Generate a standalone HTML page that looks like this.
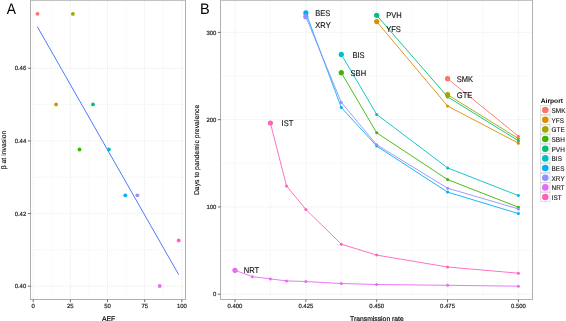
<!DOCTYPE html><html><head><meta charset="utf-8"><style>html,body{margin:0;padding:0;background:#fff;}svg{display:block;will-change:transform;transform:translateZ(0);text-rendering:geometricPrecision;}text{font-family:"Liberation Sans",sans-serif;}</style></head><body>
<svg width="566" height="321" viewBox="0 0 566 321">
<rect x="0" y="0" width="566" height="321" fill="#fff"/>
<g stroke="#f0f0f0" stroke-width="0.8" stroke-dasharray="1 1" fill="none">
<line x1="51.78" y1="1" x2="51.78" y2="299"/>
<line x1="88.94" y1="1" x2="88.94" y2="299"/>
<line x1="126.11" y1="1" x2="126.11" y2="299"/>
<line x1="163.27" y1="1" x2="163.27" y2="299"/>
<line x1="31" y1="249.88" x2="185" y2="249.88"/>
<line x1="31" y1="177.23" x2="185" y2="177.23"/>
<line x1="31" y1="104.58" x2="185" y2="104.58"/>
</g>
<g stroke="#e6e6e6" stroke-width="0.8" stroke-dasharray="1 1" fill="none">
<line x1="33.20" y1="1" x2="33.20" y2="299"/>
<line x1="70.36" y1="1" x2="70.36" y2="299"/>
<line x1="107.52" y1="1" x2="107.52" y2="299"/>
<line x1="144.69" y1="1" x2="144.69" y2="299"/>
<line x1="181.85" y1="1" x2="181.85" y2="299"/>
<line x1="31" y1="286.20" x2="185" y2="286.20"/>
<line x1="31" y1="213.55" x2="185" y2="213.55"/>
<line x1="31" y1="140.90" x2="185" y2="140.90"/>
<line x1="31" y1="68.25" x2="185" y2="68.25"/>
</g>
<rect x="30.50" y="0.25" width="155.00" height="299.25" fill="none" stroke="#b0b0b0" stroke-width="1"/>
<g stroke="#444" stroke-width="0.8">
<line x1="27.9" y1="286.20" x2="30.5" y2="286.20"/>
<line x1="27.9" y1="213.55" x2="30.5" y2="213.55"/>
<line x1="27.9" y1="140.90" x2="30.5" y2="140.90"/>
<line x1="27.9" y1="68.25" x2="30.5" y2="68.25"/>
<line x1="33.20" y1="299.5" x2="33.20" y2="302.1"/>
<line x1="70.36" y1="299.5" x2="70.36" y2="302.1"/>
<line x1="107.52" y1="299.5" x2="107.52" y2="302.1"/>
<line x1="144.69" y1="299.5" x2="144.69" y2="302.1"/>
<line x1="181.85" y1="299.5" x2="181.85" y2="302.1"/>
</g>
<g font-size="5.95" fill="#222" stroke="#222" stroke-width="0.18" text-anchor="end">
<text x="26.2" y="288.40">0.40</text>
<text x="26.2" y="215.75">0.42</text>
<text x="26.2" y="143.10">0.44</text>
<text x="26.2" y="70.45">0.46</text>
</g>
<g font-size="5.95" fill="#222" stroke="#222" stroke-width="0.18" text-anchor="middle">
<text x="33.20" y="308.3">0</text>
<text x="70.36" y="308.3">25</text>
<text x="107.52" y="308.3">50</text>
<text x="144.69" y="308.3">75</text>
<text x="181.85" y="308.3">100</text>
</g>
<text x="108.5" y="320.5" font-size="6.8" text-anchor="middle" fill="#000" stroke="#000" stroke-width="0.15">AEF</text>
<text transform="translate(5.8,150) rotate(-90)" font-size="6.85" text-anchor="middle" fill="#000" stroke="#000" stroke-width="0.12">β at invasion</text>
<text transform="translate(6.7,13.8) scale(0.9,1)" font-size="15.3" fill="#000">A</text>
<line x1="37.35" y1="26.7" x2="178.6" y2="274.5" stroke="#4d7aff" stroke-width="1.0"/>
<circle cx="37.50" cy="13.80" r="1.9" fill="#F8766D"/>
<circle cx="72.90" cy="13.90" r="1.9" fill="#A3A500"/>
<circle cx="56.10" cy="104.40" r="1.9" fill="#D89000"/>
<circle cx="93.00" cy="104.40" r="1.9" fill="#00BF7D"/>
<circle cx="79.50" cy="149.50" r="1.9" fill="#39B600"/>
<circle cx="108.90" cy="149.50" r="1.9" fill="#00BFC4"/>
<circle cx="125.30" cy="195.30" r="1.9" fill="#00B0F6"/>
<circle cx="137.40" cy="195.30" r="1.9" fill="#9590FF"/>
<circle cx="178.70" cy="240.50" r="1.9" fill="#FF62BC"/>
<circle cx="159.70" cy="286.00" r="1.9" fill="#E76BF3"/>
<g stroke="#f0f0f0" stroke-width="0.8" stroke-dasharray="1 1" fill="none">
<line x1="270.42" y1="1" x2="270.42" y2="299"/>
<line x1="341.27" y1="1" x2="341.27" y2="299"/>
<line x1="412.12" y1="1" x2="412.12" y2="299"/>
<line x1="482.97" y1="1" x2="482.97" y2="299"/>
<line x1="221" y1="250.56" x2="532" y2="250.56"/>
<line x1="221" y1="163.29" x2="532" y2="163.29"/>
<line x1="221" y1="76.02" x2="532" y2="76.02"/>
</g>
<g stroke="#e6e6e6" stroke-width="0.8" stroke-dasharray="1 1" fill="none">
<line x1="235.00" y1="1" x2="235.00" y2="299"/>
<line x1="305.85" y1="1" x2="305.85" y2="299"/>
<line x1="376.70" y1="1" x2="376.70" y2="299"/>
<line x1="447.55" y1="1" x2="447.55" y2="299"/>
<line x1="518.40" y1="1" x2="518.40" y2="299"/>
<line x1="221" y1="294.20" x2="532" y2="294.20"/>
<line x1="221" y1="206.93" x2="532" y2="206.93"/>
<line x1="221" y1="119.66" x2="532" y2="119.66"/>
<line x1="221" y1="32.39" x2="532" y2="32.39"/>
</g>
<rect x="220.50" y="0.25" width="312.00" height="299.25" fill="none" stroke="#b0b0b0" stroke-width="1"/>
<g stroke="#444" stroke-width="0.8">
<line x1="217.9" y1="294.20" x2="220.5" y2="294.20"/>
<line x1="217.9" y1="206.93" x2="220.5" y2="206.93"/>
<line x1="217.9" y1="119.66" x2="220.5" y2="119.66"/>
<line x1="217.9" y1="32.39" x2="220.5" y2="32.39"/>
<line x1="235.00" y1="299.5" x2="235.00" y2="302.1"/>
<line x1="305.85" y1="299.5" x2="305.85" y2="302.1"/>
<line x1="376.70" y1="299.5" x2="376.70" y2="302.1"/>
<line x1="447.55" y1="299.5" x2="447.55" y2="302.1"/>
<line x1="518.40" y1="299.5" x2="518.40" y2="302.1"/>
</g>
<g font-size="5.95" fill="#222" stroke="#222" stroke-width="0.18" text-anchor="end">
<text x="216.3" y="296.40">0</text>
<text x="216.3" y="209.13">100</text>
<text x="216.3" y="121.86">200</text>
<text x="216.3" y="34.59">300</text>
</g>
<g font-size="5.95" fill="#222" stroke="#222" stroke-width="0.18" text-anchor="middle">
<text x="235.00" y="308.3">0.400</text>
<text x="305.85" y="308.3">0.425</text>
<text x="376.70" y="308.3">0.450</text>
<text x="447.55" y="308.3">0.475</text>
<text x="518.40" y="308.3">0.500</text>
</g>
<text x="376.9" y="320.5" font-size="6.8" text-anchor="middle" fill="#000" stroke="#000" stroke-width="0.15">Transmission rate</text>
<text transform="translate(199.2,149.9) rotate(-90)" font-size="6.87" text-anchor="middle" fill="#000" stroke="#000" stroke-width="0.12">Days to pandemic prevalence</text>
<text transform="translate(199.9,13.8) scale(0.95,1)" font-size="15.3" fill="#000">B</text>
<polyline fill="none" stroke="#F8766D" stroke-width="0.9" points="447.60,78.70 518.40,136.20"/>
<polyline fill="none" stroke="#D89000" stroke-width="0.9" points="376.70,21.60 447.60,106.00 518.40,143.20"/>
<polyline fill="none" stroke="#A3A500" stroke-width="0.9" points="447.60,94.70 518.40,138.60"/>
<polyline fill="none" stroke="#39B600" stroke-width="0.9" points="341.30,72.70 376.70,132.80 447.60,179.60 518.40,207.20"/>
<polyline fill="none" stroke="#00BF7D" stroke-width="0.9" points="376.70,15.30 447.60,96.90 518.40,140.70"/>
<polyline fill="none" stroke="#00BFC4" stroke-width="0.9" points="341.30,54.40 376.70,114.40 447.60,167.90 518.40,195.60"/>
<polyline fill="none" stroke="#00B0F6" stroke-width="0.9" points="305.85,12.90 341.30,107.50 376.70,146.10 447.60,192.10 518.40,213.60"/>
<polyline fill="none" stroke="#9590FF" stroke-width="0.9" points="305.85,16.70 341.30,102.40 376.70,144.80 447.60,188.20 518.40,208.90"/>
<polyline fill="none" stroke="#E76BF3" stroke-width="0.9" points="235.00,270.30 252.40,276.70 270.40,278.90 286.50,280.90 305.85,281.50 341.30,283.50 376.70,284.50 447.60,285.30 518.40,286.20"/>
<polyline fill="none" stroke="#FF62BC" stroke-width="0.9" points="270.40,123.00 286.50,185.90 305.85,209.40 341.30,244.20 376.70,255.10 447.60,267.00 518.40,273.20"/>
<circle cx="518.40" cy="136.20" r="1.5" fill="#F8766D"/>
<circle cx="447.60" cy="106.00" r="1.5" fill="#D89000"/>
<circle cx="518.40" cy="143.20" r="1.5" fill="#D89000"/>
<circle cx="518.40" cy="138.60" r="1.5" fill="#A3A500"/>
<circle cx="376.70" cy="132.80" r="1.5" fill="#39B600"/>
<circle cx="447.60" cy="179.60" r="1.5" fill="#39B600"/>
<circle cx="518.40" cy="207.20" r="1.5" fill="#39B600"/>
<circle cx="447.60" cy="96.90" r="1.5" fill="#00BF7D"/>
<circle cx="518.40" cy="140.70" r="1.5" fill="#00BF7D"/>
<circle cx="376.70" cy="114.40" r="1.5" fill="#00BFC4"/>
<circle cx="447.60" cy="167.90" r="1.5" fill="#00BFC4"/>
<circle cx="518.40" cy="195.60" r="1.5" fill="#00BFC4"/>
<circle cx="341.30" cy="107.50" r="1.5" fill="#00B0F6"/>
<circle cx="376.70" cy="146.10" r="1.5" fill="#00B0F6"/>
<circle cx="447.60" cy="192.10" r="1.5" fill="#00B0F6"/>
<circle cx="518.40" cy="213.60" r="1.5" fill="#00B0F6"/>
<circle cx="341.30" cy="102.40" r="1.5" fill="#9590FF"/>
<circle cx="376.70" cy="144.80" r="1.5" fill="#9590FF"/>
<circle cx="447.60" cy="188.20" r="1.5" fill="#9590FF"/>
<circle cx="518.40" cy="208.90" r="1.5" fill="#9590FF"/>
<circle cx="252.40" cy="276.70" r="1.5" fill="#E76BF3"/>
<circle cx="270.40" cy="278.90" r="1.5" fill="#E76BF3"/>
<circle cx="286.50" cy="280.90" r="1.5" fill="#E76BF3"/>
<circle cx="305.85" cy="281.50" r="1.5" fill="#E76BF3"/>
<circle cx="341.30" cy="283.50" r="1.5" fill="#E76BF3"/>
<circle cx="376.70" cy="284.50" r="1.5" fill="#E76BF3"/>
<circle cx="447.60" cy="285.30" r="1.5" fill="#E76BF3"/>
<circle cx="518.40" cy="286.20" r="1.5" fill="#E76BF3"/>
<circle cx="286.50" cy="185.90" r="1.5" fill="#FF62BC"/>
<circle cx="305.85" cy="209.40" r="1.5" fill="#FF62BC"/>
<circle cx="341.30" cy="244.20" r="1.5" fill="#FF62BC"/>
<circle cx="376.70" cy="255.10" r="1.5" fill="#FF62BC"/>
<circle cx="447.60" cy="267.00" r="1.5" fill="#FF62BC"/>
<circle cx="518.40" cy="273.20" r="1.5" fill="#FF62BC"/>
<circle cx="447.60" cy="78.70" r="2.6" fill="#F8766D"/>
<circle cx="376.70" cy="21.60" r="2.6" fill="#D89000"/>
<circle cx="447.60" cy="94.70" r="2.6" fill="#A3A500"/>
<circle cx="341.30" cy="72.70" r="2.6" fill="#39B600"/>
<circle cx="376.70" cy="15.30" r="2.6" fill="#00BF7D"/>
<circle cx="341.30" cy="54.40" r="2.6" fill="#00BFC4"/>
<circle cx="305.85" cy="12.90" r="2.6" fill="#00B0F6"/>
<circle cx="305.85" cy="16.70" r="2.6" fill="#9590FF"/>
<circle cx="235.00" cy="270.30" r="2.6" fill="#E76BF3"/>
<circle cx="270.40" cy="123.00" r="2.6" fill="#FF62BC"/>
<g font-size="8.2" fill="#111" stroke="#111" stroke-width="0.12">
<text transform="translate(315.30,16.40) scale(0.92,1)">BES</text>
<text transform="translate(315.30,28.40) scale(0.92,1)">XRY</text>
<text transform="translate(352.50,57.70) scale(0.92,1)">BIS</text>
<text transform="translate(350.60,75.50) scale(0.92,1)">SBH</text>
<text transform="translate(386.20,17.90) scale(0.92,1)">PVH</text>
<text transform="translate(386.20,31.60) scale(0.92,1)">YFS</text>
<text transform="translate(456.80,81.80) scale(0.92,1)">SMK</text>
<text transform="translate(456.80,98.00) scale(0.92,1)">GTE</text>
<text transform="translate(281.60,126.00) scale(0.92,1)">IST</text>
<text transform="translate(243.70,273.40) scale(0.92,1)">NRT</text>
</g>
<text x="540.8" y="103.2" font-size="6.65" font-weight="bold" fill="#000">Airport</text>
<rect x="540.6" y="105.50" width="9.4" height="9.07" fill="#fff" stroke="#cccccc" stroke-width="0.6"/>
<circle cx="545.3" cy="110.03" r="3.3" fill="#F8766D"/>
<text transform="translate(551.6,112.83) scale(0.93,1)" font-size="6.9" fill="#111" stroke="#111" stroke-width="0.1">SMK</text>
<rect x="540.6" y="115.17" width="9.4" height="9.07" fill="#fff" stroke="#cccccc" stroke-width="0.6"/>
<circle cx="545.3" cy="119.70" r="3.3" fill="#D89000"/>
<text transform="translate(551.6,122.50) scale(0.93,1)" font-size="6.9" fill="#111" stroke="#111" stroke-width="0.1">YFS</text>
<rect x="540.6" y="124.84" width="9.4" height="9.07" fill="#fff" stroke="#cccccc" stroke-width="0.6"/>
<circle cx="545.3" cy="129.38" r="3.3" fill="#A3A500"/>
<text transform="translate(551.6,132.18) scale(0.93,1)" font-size="6.9" fill="#111" stroke="#111" stroke-width="0.1">GTE</text>
<rect x="540.6" y="134.51" width="9.4" height="9.07" fill="#fff" stroke="#cccccc" stroke-width="0.6"/>
<circle cx="545.3" cy="139.05" r="3.3" fill="#39B600"/>
<text transform="translate(551.6,141.85) scale(0.93,1)" font-size="6.9" fill="#111" stroke="#111" stroke-width="0.1">SBH</text>
<rect x="540.6" y="144.18" width="9.4" height="9.07" fill="#fff" stroke="#cccccc" stroke-width="0.6"/>
<circle cx="545.3" cy="148.72" r="3.3" fill="#00BF7D"/>
<text transform="translate(551.6,151.52) scale(0.93,1)" font-size="6.9" fill="#111" stroke="#111" stroke-width="0.1">PVH</text>
<rect x="540.6" y="153.85" width="9.4" height="9.07" fill="#fff" stroke="#cccccc" stroke-width="0.6"/>
<circle cx="545.3" cy="158.39" r="3.3" fill="#00BFC4"/>
<text transform="translate(551.6,161.19) scale(0.93,1)" font-size="6.9" fill="#111" stroke="#111" stroke-width="0.1">BIS</text>
<rect x="540.6" y="163.52" width="9.4" height="9.07" fill="#fff" stroke="#cccccc" stroke-width="0.6"/>
<circle cx="545.3" cy="168.06" r="3.3" fill="#00B0F6"/>
<text transform="translate(551.6,170.86) scale(0.93,1)" font-size="6.9" fill="#111" stroke="#111" stroke-width="0.1">BES</text>
<rect x="540.6" y="173.19" width="9.4" height="9.07" fill="#fff" stroke="#cccccc" stroke-width="0.6"/>
<circle cx="545.3" cy="177.72" r="3.3" fill="#9590FF"/>
<text transform="translate(551.6,180.53) scale(0.93,1)" font-size="6.9" fill="#111" stroke="#111" stroke-width="0.1">XRY</text>
<rect x="540.6" y="182.86" width="9.4" height="9.07" fill="#fff" stroke="#cccccc" stroke-width="0.6"/>
<circle cx="545.3" cy="187.40" r="3.3" fill="#E76BF3"/>
<text transform="translate(551.6,190.20) scale(0.93,1)" font-size="6.9" fill="#111" stroke="#111" stroke-width="0.1">NRT</text>
<rect x="540.6" y="192.53" width="9.4" height="9.07" fill="#fff" stroke="#cccccc" stroke-width="0.6"/>
<circle cx="545.3" cy="197.07" r="3.3" fill="#FF62BC"/>
<text transform="translate(551.6,199.87) scale(0.93,1)" font-size="6.9" fill="#111" stroke="#111" stroke-width="0.1">IST</text>
</svg></body></html>
